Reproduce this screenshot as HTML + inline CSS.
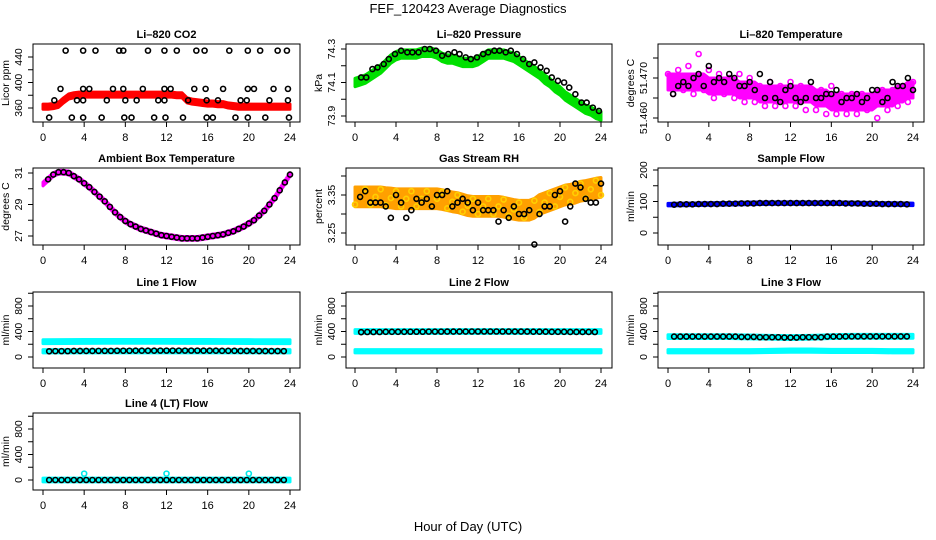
<!DOCTYPE html>
<html><head><meta charset="utf-8">
<style>
body{margin:0;background:#fff;}
svg{display:block;font-family:"Liberation Sans",sans-serif;}
</style></head>
<body>
<svg id="c" width="936" height="540" viewBox="0 0 936 540">
<text x="468" y="13" text-anchor="middle" font-size="13">FEF_120423  Average Diagnostics</text>
<text x="468" y="531" text-anchor="middle" font-size="13">Hour of Day (UTC)</text>
</svg>
<script>
// x tick labels
const xTicks = [0,4,8,12,16,20,24];
// Li-820 CO2
const co2Center = [362,362,363,365,372,378,380,381,381,381,381,381,381,381,381,381,381,381,381,381,381,381,381,381,381,381,380,380,372,370,369,368,367,367,366,366,364,363,362,362,362,362,362,362,362,362,362,362,362];
const co2BlackHours = [2.2,3.9,5.1,7.4,7.8,10.2,11.8,13,14.9,15.7,18.1,19.9,21.1,22.8,23.7,1.7,3.9,4.5,6.8,7.8,9.7,11.8,12.4,14.7,15.8,17.5,19.9,20.5,22.4,23.8,1.1,3.3,3.9,6.2,8,9.1,11.2,11.8,14.1,15.9,17,19.2,19.8,22,23.8,0.6,2.8,3.9,5.7,7.9,8.6,10.8,11.9,13.6,15.9,16.5,18.7,19.9,21.6,23.9];
const co2BlackVals = [450,450,450,450,450,450,450,450,450,450,450,450,450,450,450,390,390,390,390,390,390,390,390,390,390,390,390,390,390,390,372,372,372,372,372,372,372,372,372,372,372,372,372,372,372,345,345,345,345,345,345,345,345,345,345,345,345,345,345,345];
// Li-820 Pressure
const presCenter = [74.10,74.11,74.12,74.14,74.16,74.18,74.21,74.24,74.26,74.27,74.27,74.27,74.27,74.28,74.28,74.28,74.27,74.25,74.24,74.24,74.23,74.22,74.22,74.22,74.23,74.25,74.27,74.27,74.27,74.27,74.26,74.25,74.23,74.21,74.19,74.17,74.15,74.12,74.10,74.07,74.05,74.02,74.00,73.98,73.96,73.94,73.93,73.91,73.90];
const presBlackHours = [0.6,1.1,1.7,2.2,2.8,3.3,3.9,4.5,5.1,5.6,6.2,6.8,7.3,7.9,8.5,9.1,9.7,10.2,10.8,11.3,11.9,12.5,13.0,13.6,14.1,14.7,15.2,15.8,16.4,17.0,17.5,18.1,18.7,19.2,19.8,20.4,20.9,21.5,22.1,22.6,23.2,23.8];
const presBlack = [74.13,74.13,74.18,74.19,74.21,74.24,74.27,74.29,74.28,74.28,74.28,74.30,74.30,74.29,74.26,74.27,74.28,74.27,74.25,74.24,74.25,74.27,74.28,74.29,74.29,74.28,74.29,74.27,74.24,74.21,74.22,74.19,74.17,74.13,74.11,74.10,74.07,74.03,73.98,73.98,73.95,73.93];
// Li-820 Temperature
const tempCenter = [51.469,51.469,51.469,51.469,51.469,51.469,51.469,51.469,51.468,51.468,51.468,51.468,51.468,51.468,51.467,51.467,51.467,51.467,51.466,51.466,51.466,51.466,51.466,51.466,51.466,51.466,51.466,51.466,51.466,51.465,51.465,51.465,51.464,51.464,51.464,51.464,51.464,51.464,51.464,51.464,51.464,51.465,51.465,51.465,51.465,51.466,51.466,51.467,51.467];
const tempScatter = [51.471,51.466,51.472,51.467,51.473,51.466,51.476,51.467,51.472,51.465,51.471,51.466,51.470,51.465,51.471,51.464,51.470,51.464,51.468,51.463,51.469,51.463,51.468,51.463,51.469,51.463,51.468,51.462,51.467,51.462,51.467,51.461,51.468,51.461,51.466,51.461,51.466,51.461,51.466,51.462,51.465,51.460,51.467,51.462,51.467,51.463,51.468,51.464,51.469];
const tempBlack = [51.466,51.466,51.468,51.469,51.468,51.470,51.471,51.468,51.473,51.469,51.470,51.469,51.471,51.470,51.468,51.468,51.469,51.467,51.471,51.465,51.469,51.465,51.464,51.467,51.468,51.465,51.464,51.465,51.469,51.465,51.465,51.466,51.466,51.467,51.464,51.465,51.465,51.466,51.464,51.465,51.467,51.467,51.464,51.465,51.469,51.468,51.468,51.470,51.467];
// Ambient box temperature
const ambCenter = [30.3,30.6,30.9,31.05,31.05,31.0,30.8,30.6,30.35,30.1,29.8,29.5,29.2,28.85,28.5,28.2,27.95,27.75,27.6,27.45,27.35,27.25,27.15,27.05,27.0,26.95,26.9,26.85,26.85,26.85,26.85,26.9,26.95,27.0,27.05,27.1,27.2,27.3,27.45,27.6,27.8,28.0,28.3,28.6,29.0,29.4,29.9,30.4,30.9];
// Gas stream RH
const rhCenter = [3.345,3.345,3.345,3.345,3.345,3.345,3.343,3.342,3.340,3.340,3.340,3.340,3.340,3.340,3.340,3.340,3.340,3.338,3.335,3.332,3.330,3.326,3.322,3.320,3.320,3.320,3.320,3.320,3.320,3.318,3.315,3.312,3.310,3.310,3.310,3.315,3.325,3.330,3.335,3.340,3.345,3.350,3.352,3.355,3.360,3.362,3.365,3.368,3.370];
const rhBlack = [3.34,3.345,3.36,3.33,3.33,3.33,3.32,3.29,3.35,3.33,3.29,3.31,3.34,3.33,3.34,3.32,3.35,3.35,3.36,3.32,3.33,3.34,3.33,3.31,3.33,3.31,3.31,3.31,3.28,3.31,3.29,3.32,3.30,3.30,3.31,3.22,3.30,3.32,3.32,3.35,3.36,3.28,3.32,3.38,3.37,3.34,3.33,3.33,3.38];
// Flows (every 2 hours)
const sampleFlow = [90,91,92,93,94,95,95,95,95,94,93,92,91];
const line1High = [240,242,244,245,245,245,245,244,244,243,242,240,240];
const line1Low = [90,90,90,90,90,90,90,90,90,90,90,90,90];
const line1Black = [90,92,95,96,98,99,100,100,99,97,95,93,92];
const line2High = [400,400,400,400,400,400,400,400,400,400,400,400,400];
const line2Low = [90,90,90,90,90,90,90,90,90,90,90,90,90];
const line2Black = [390,392,395,396,398,399,400,400,399,397,395,393,392];
const line3High = [320,320,320,320,315,310,305,310,320,325,325,325,325];
const line3Low = [90,90,90,90,90,95,100,100,95,95,95,90,90];
const line3Black = [320,320,320,320,315,310,305,310,320,322,322,322,322];
const line4Cyan = [0,0,0,0,0,0,0,0,0,0,0,0,0];
const line4Black = [0,0,0,0,0,0,0,0,0,0,0,0,0];
const line4OutHours = [4,12,20];
const line4OutVals = [100,100,100];

const svg = document.getElementById('c');
const NS = 'http://www.w3.org/2000/svg';
const H49 = []; for (let i=0;i<=48;i++) H49.push(i/2);
const H13 = []; for (let i=0;i<=12;i++) H13.push(i*2);
const cols = [{l:33,r:300,x0:43,x24:290},{l:346,r:612,x0:355,x24:601},{l:658,r:924,x0:668,x24:913}];
const rows = [{t:44,b:122},{t:168,b:245},{t:292,b:368},{t:413,b:490}];
function mk(tag, attrs, parent){const e=document.createElementNS(NS,tag);for(const k in attrs)e.setAttribute(k,attrs[k]);(parent||svg).appendChild(e);return e;}

function panel(o){
  const c=cols[o.col], r=rows[o.row];
  const g=mk('g',{});
  
  
  const X=h=>c.x0+(c.x24-c.x0)*h/24;
  const Y=v=>o.p0+(o.p1-o.p0)*(v-o.v0)/(o.v1-o.v0);
  const plot=mk('g',{},g);
  
  
  o.draw(plot,X,Y);
  const box=mk('rect',{x:c.l,y:r.t,width:c.r-c.l,height:r.b-r.t,fill:'none',stroke:'#000','stroke-width':1},g);
  
  
  const t=mk('text',{x:(c.l+c.r)/2,y:r.t-6,'text-anchor':'middle','font-size':11,'font-weight':'bold'},g);
  t.textContent=o.title;
  
  
  const xa=mk('g',{},g);
  
  
  mk('line',{x1:X(0),x2:X(24),y1:r.b,y2:r.b,stroke:'#000'},xa);
  xTicks.forEach(h=>{
    mk('line',{x1:X(h),x2:X(h),y1:r.b,y2:r.b+5,stroke:'#000'},xa);
    const tl=mk('text',{x:X(h),y:r.b+19,'text-anchor':'middle','font-size':11},xa);
    tl.textContent=h;
    
    
  });
  const ya=mk('g',{},g);
  
  
  mk('line',{x1:c.l,x2:c.l,y1:Y(o.ticks[0]),y2:Y(o.ticks[o.ticks.length-1]),stroke:'#000'},ya);
  o.ticks.forEach(v=>{mk('line',{x1:c.l-5,x2:c.l,y1:Y(v),y2:Y(v),stroke:'#000'},ya);});
  o.labels.forEach((s,i)=>{
    const y=Y(o.labelVals[i]);
    const tl=mk('text',{x:c.l-11,y:y,'text-anchor':'middle','font-size':10.5,transform:`rotate(-90 ${c.l-11} ${y})`},ya);
    tl.textContent=s;
    
    
  });
  const yt=mk('text',{x:c.l-24,y:(r.t+r.b)/2,'text-anchor':'middle','font-size':10.5,transform:`rotate(-90 ${c.l-24} ${(r.t+r.b)/2})`},ya);
  yt.textContent=o.ytitle;
  
  
}
function band(g,X,Y,hours,center,hw,color,name){
  let pts=hours.map((h,i)=>X(h)+','+Y(center[i]+hw)).join(' ')+' '+hours.slice().reverse().map((h,j)=>{const i=hours.length-1-j;return X(h)+','+Y(center[i]-hw);}).join(' ');
  const p=mk('polygon',{points:pts,fill:color,stroke:color,'stroke-width':3,'stroke-linejoin':'round'},g);
  
  
}
function dots(g,X,Y,hours,vals,color,name){
  hours.forEach((h,i)=>{
    const e=mk('circle',{cx:X(h),cy:Y(vals[i]),r:2.5,fill:'none',stroke:color,'stroke-width':1.6},g);
    
    
  });
}
const HB = []; for (let i=0;i<=38;i++) HB.push(0.6+i*0.6);
function flatVals(arr,hours){return hours.map(h=>arr[Math.min(12,Math.round(h/2))]);}

panel({name:'co2-panel',title:'Li\u2013820 CO2',col:0,row:0,v0:360,p0:108,v1:440,p1:57,ticks:[360,380,400,420,440],labels:['360','400','440'],labelVals:[360,400,440],ytitle:'Licor ppm',
 draw:(g,X,Y)=>{band(g,X,Y,H49,co2Center,4,'#ff0000','co2-band');dots(g,X,Y,co2BlackHours,co2BlackVals,'#000','co2-point');}});
panel({name:'pressure-panel',title:'Li\u2013820 Pressure',col:1,row:0,v0:73.9,p0:116,v1:74.3,p1:49,ticks:[73.9,74.0,74.1,74.2,74.3],labels:['73.9','74.1','74.3'],labelVals:[73.9,74.1,74.3],ytitle:'kPa',
 draw:(g,X,Y)=>{band(g,X,Y,H49,presCenter,0.025,'#00e000','pressure-band');dots(g,X,Y,presBlackHours,presBlack,'#000','pressure-point');}});
panel({name:'temperature-panel',title:'Li\u2013820 Temperature',col:2,row:0,v0:51.460,p0:118,v1:51.470,p1:78,ticks:[51.460,51.465,51.470,51.475],labels:['51.460','51.470'],labelVals:[51.460,51.470],ytitle:'degrees C',
 draw:(g,X,Y)=>{band(g,X,Y,H49,tempCenter,0.002,'#ff00ff','temperature-band');dots(g,X,Y,H49,tempScatter,'#ff00ff','temperature-magenta-point');dots(g,X,Y,H49.slice(1),tempBlack.slice(1),'#000','temperature-point');}});
panel({name:'ambient-panel',title:'Ambient Box Temperature',col:0,row:1,v0:27,p0:236,v1:31,p1:173,ticks:[27,28,29,30,31],labels:['27','29','31'],labelVals:[27,29,31],ytitle:'degrees C',
 draw:(g,X,Y)=>{band(g,X,Y,H49,ambCenter,0.12,'#ff00ff','ambient-band');dots(g,X,Y,H49.slice(1),ambCenter.slice(1),'#000','ambient-point');}});
panel({name:'rh-panel',title:'Gas Stream RH',col:1,row:1,v0:3.25,p0:233,v1:3.35,p1:195,ticks:[3.25,3.30,3.35,3.40],labels:['3.25','3.35'],labelVals:[3.25,3.35],ytitle:'percent',
 draw:(g,X,Y)=>{band(g,X,Y,H49,rhCenter,0.026,'#ffa000','rh-band');dots(g,X,Y,H49,rhCenter.map((v,i)=>v+(i%3-1)*0.02),'#ffd000','rh-yellow-point');dots(g,X,Y,H49.slice(1),rhBlack.slice(1),'#000','rh-point');}});
panel({name:'sample-flow-panel',title:'Sample Flow',col:2,row:1,v0:0,p0:233,v1:200,p1:170,ticks:[0,50,100,150,200],labels:['0','100','200'],labelVals:[0,100,200],ytitle:'ml/min',
 draw:(g,X,Y)=>{band(g,X,Y,H13,sampleFlow,4,'#0000ff','sample-flow-band');dots(g,X,Y,HB,flatVals(sampleFlow,HB),'#000','sample-flow-point');}});
const flowTicks=[0,200,400,600,800,1000];
function flowPanel(name,title,col,row,p0,p1,high,low,black,extra){
  panel({name:name,title:title,col:col,row:row,v0:0,p0:p0,v1:800,p1:p1,ticks:flowTicks,labels:['0','400','800'],labelVals:[0,400,800],ytitle:'ml/min',
   draw:(g,X,Y)=>{band(g,X,Y,H13,high,30,'#00ffff',name+'-high-band');if(low)band(g,X,Y,H13,low,25,'#00ffff',name+'-low-band');dots(g,X,Y,HB,flatVals(black,HB),'#000',name+'-point');if(extra)extra(g,X,Y);}});
}
flowPanel('line1-flow-panel','Line 1 Flow',0,2,357,306,line1High,line1Low,line1Black);
flowPanel('line2-flow-panel','Line 2 Flow',1,2,357,306,line2High,line2Low,line2Black);
flowPanel('line3-flow-panel','Line 3 Flow',2,2,357,306,line3High,line3Low,line3Black);
flowPanel('line4-flow-panel','Line 4 (LT) Flow',0,3,480,429,line4Cyan,null,line4Black,(g,X,Y)=>{dots(g,X,Y,line4OutHours,line4OutVals,'#00e8e8','line4-outlier');});
</script>
</body></html>
